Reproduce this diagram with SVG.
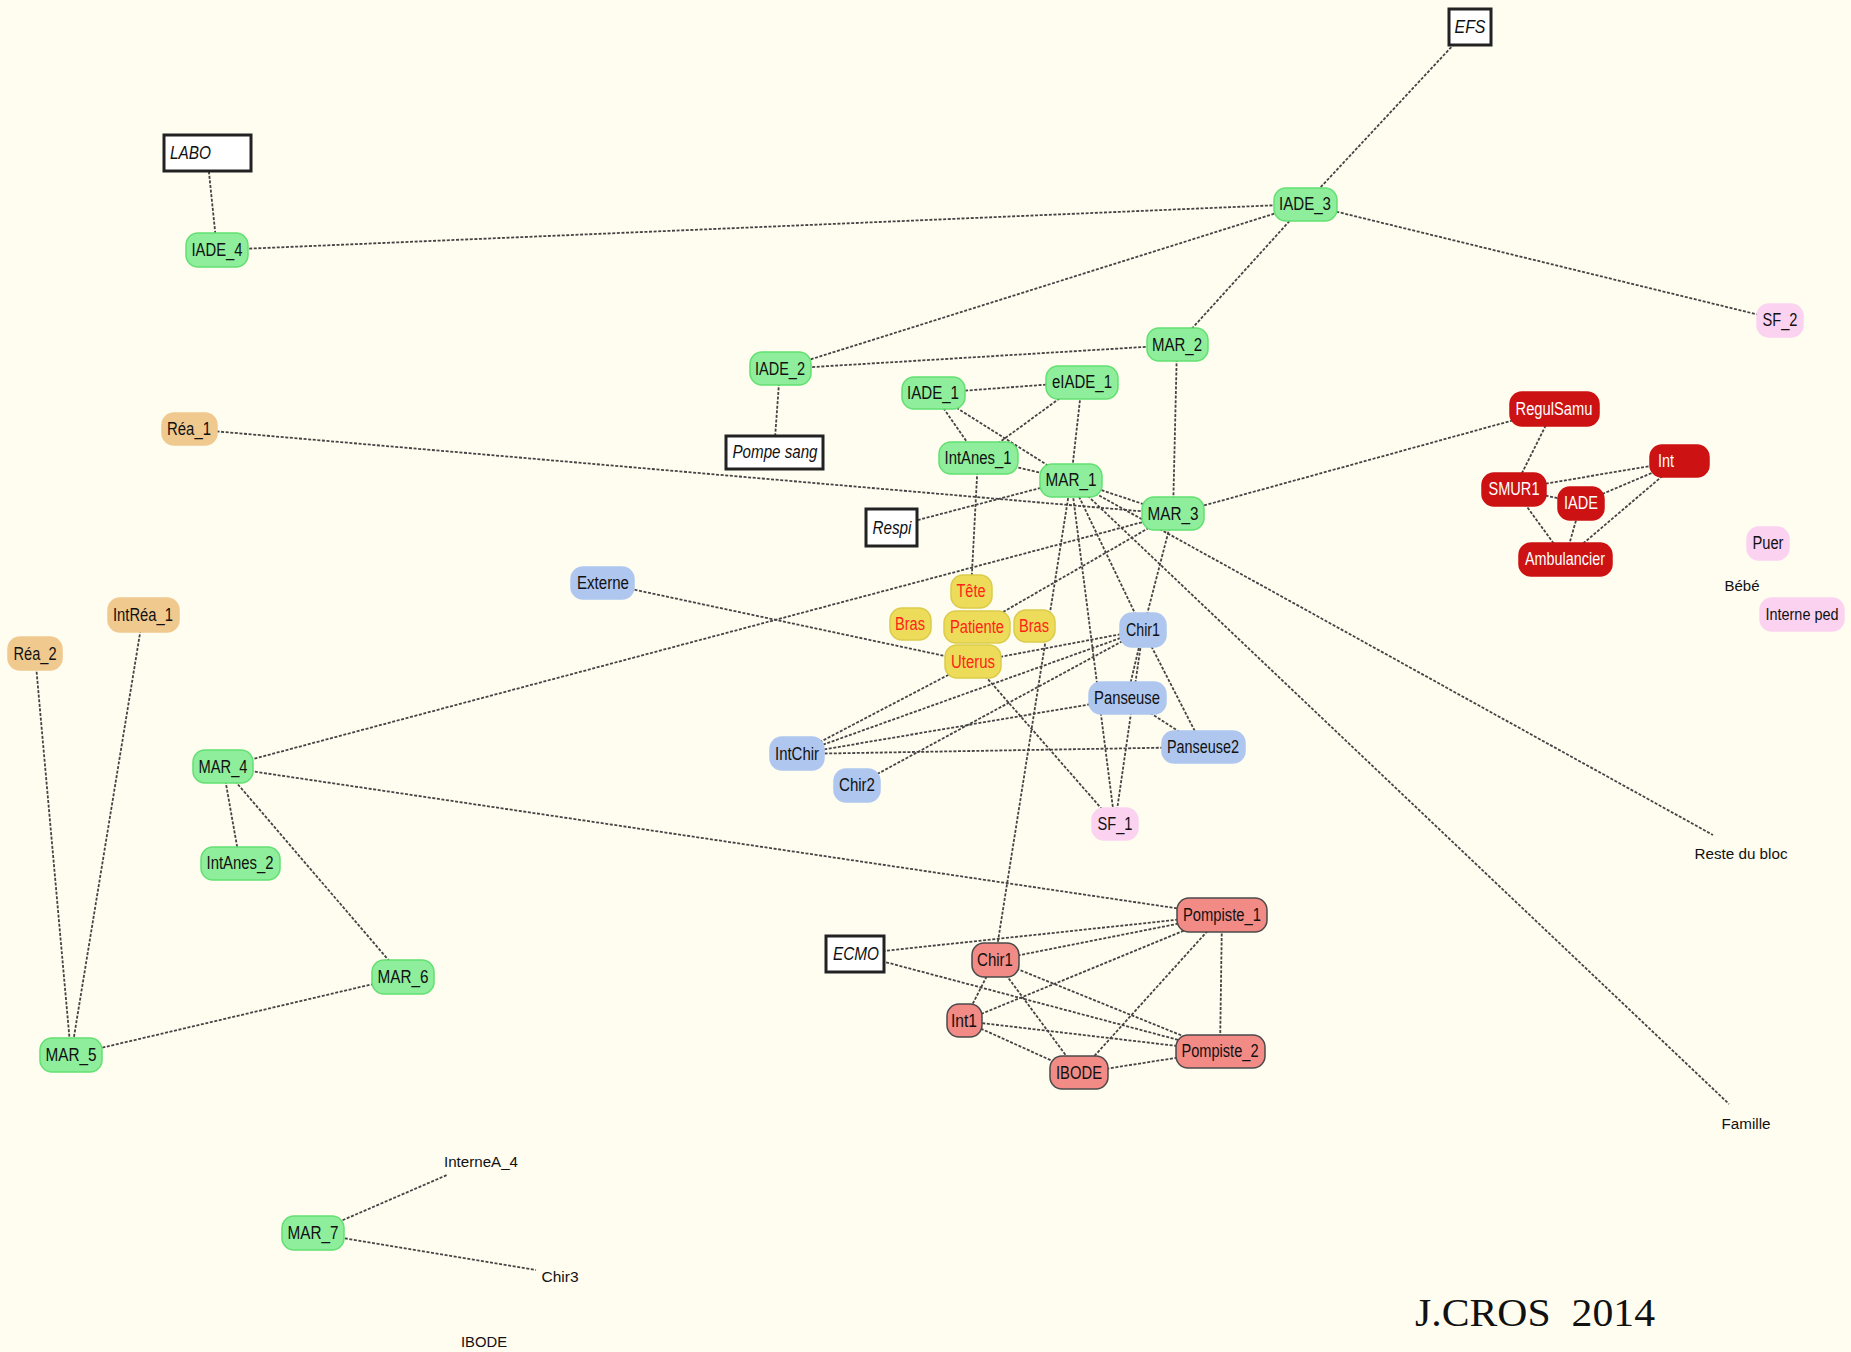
<svg xmlns="http://www.w3.org/2000/svg" width="1851" height="1352" viewBox="0 0 1851 1352">
<style>
.bg{fill:#fffcf0}
.e{stroke:#444;stroke-width:1.8;stroke-dasharray:3 1.6;fill:none}
.n rect{stroke-width:1.5}
.g rect{fill:#8eee9b;stroke:#62e072}
.o rect{fill:#f0c98f;stroke:#f0c98f}
.b rect{fill:#afc7ef;stroke:#afc7ef}
.y rect{fill:#ecdc59;stroke:#dccb4a}
.p rect{fill:#fbd3f1;stroke:#fbd3f1}
.r rect{fill:#cc1212;stroke:#cc1212}
.lr rect{fill:#f28b86;stroke:#4a4a4a}
.box rect{fill:#ffffff;stroke:#222;stroke-width:3}
text{font-family:"Liberation Sans",Arial,sans-serif;font-size:17.5px;fill:#111;text-anchor:middle}
.y text{fill:#ff2418}
.r text{fill:#ffffff}
.box text{font-style:italic}
.free text{font-size:15.5px}
.sig{font-family:"Liberation Serif","DejaVu Serif",serif;font-size:41px;text-anchor:start}
</style>
<rect class="bg" x="0" y="0" width="1851" height="1352"/>
<g id="connectors">
<line class="e" x1="207" y1="153" x2="217" y2="250"/>
<line class="e" x1="217" y1="250" x2="1305" y2="204"/>
<line class="e" x1="1305" y1="204" x2="1470" y2="27"/>
<line class="e" x1="1305" y1="204" x2="1780" y2="320"/>
<line class="e" x1="1305" y1="204" x2="780" y2="369"/>
<line class="e" x1="1305" y1="204" x2="1177" y2="345"/>
<line class="e" x1="780" y1="369" x2="1177" y2="345"/>
<line class="e" x1="780" y1="369" x2="774" y2="452"/>
<line class="e" x1="933" y1="393" x2="1082" y2="382"/>
<line class="e" x1="933" y1="393" x2="978" y2="458"/>
<line class="e" x1="933" y1="393" x2="1071" y2="480"/>
<line class="e" x1="1082" y1="382" x2="978" y2="458"/>
<line class="e" x1="1082" y1="382" x2="1071" y2="480"/>
<line class="e" x1="978" y1="458" x2="1071" y2="480"/>
<line class="e" x1="978" y1="458" x2="971" y2="591"/>
<line class="e" x1="891" y1="527" x2="1071" y2="480"/>
<line class="e" x1="189" y1="429" x2="1173" y2="514"/>
<line class="e" x1="1071" y1="480" x2="1173" y2="514"/>
<line class="e" x1="1177" y1="345" x2="1173" y2="514"/>
<line class="e" x1="1173" y1="514" x2="1554" y2="409"/>
<line class="e" x1="1173" y1="514" x2="223" y2="767"/>
<line class="e" x1="1173" y1="514" x2="977" y2="627"/>
<line class="e" x1="1173" y1="514" x2="1143" y2="630"/>
<line class="e" x1="1071" y1="480" x2="1143" y2="630"/>
<line class="e" x1="1071" y1="480" x2="1115" y2="824"/>
<line class="e" x1="1071" y1="480" x2="995" y2="960"/>
<line class="e" x1="1071" y1="480" x2="1713" y2="835"/>
<line class="e" x1="1071" y1="480" x2="1729" y2="1104"/>
<line class="e" x1="603" y1="583" x2="973" y2="662"/>
<line class="e" x1="973" y1="662" x2="1143" y2="630"/>
<line class="e" x1="973" y1="662" x2="797" y2="754"/>
<line class="e" x1="973" y1="662" x2="1115" y2="824"/>
<line class="e" x1="797" y1="754" x2="1143" y2="630"/>
<line class="e" x1="797" y1="754" x2="1127" y2="698"/>
<line class="e" x1="797" y1="754" x2="1203" y2="747"/>
<line class="e" x1="857" y1="785" x2="1143" y2="630"/>
<line class="e" x1="1143" y1="630" x2="1127" y2="698"/>
<line class="e" x1="1143" y1="630" x2="1203" y2="747"/>
<line class="e" x1="1143" y1="630" x2="1115" y2="824"/>
<line class="e" x1="1127" y1="698" x2="1203" y2="747"/>
<line class="e" x1="223" y1="767" x2="240" y2="863"/>
<line class="e" x1="223" y1="767" x2="403" y2="977"/>
<line class="e" x1="223" y1="767" x2="1222" y2="915"/>
<line class="e" x1="71" y1="1055" x2="35" y2="654"/>
<line class="e" x1="71" y1="1055" x2="143" y2="615"/>
<line class="e" x1="71" y1="1055" x2="403" y2="977"/>
<line class="e" x1="313" y1="1233" x2="447" y2="1175"/>
<line class="e" x1="313" y1="1233" x2="536" y2="1270"/>
<line class="e" x1="1554" y1="409" x2="1514" y2="489"/>
<line class="e" x1="1514" y1="489" x2="1680" y2="461"/>
<line class="e" x1="1514" y1="489" x2="1581" y2="503"/>
<line class="e" x1="1581" y1="503" x2="1680" y2="461"/>
<line class="e" x1="1514" y1="489" x2="1565" y2="559"/>
<line class="e" x1="1581" y1="503" x2="1565" y2="559"/>
<line class="e" x1="1680" y1="461" x2="1565" y2="559"/>
<line class="e" x1="855" y1="954" x2="1222" y2="915"/>
<line class="e" x1="855" y1="954" x2="1220" y2="1051"/>
<line class="e" x1="995" y1="960" x2="1222" y2="915"/>
<line class="e" x1="995" y1="960" x2="1220" y2="1051"/>
<line class="e" x1="995" y1="960" x2="964" y2="1021"/>
<line class="e" x1="995" y1="960" x2="1079" y2="1073"/>
<line class="e" x1="964" y1="1021" x2="1222" y2="915"/>
<line class="e" x1="964" y1="1021" x2="1220" y2="1051"/>
<line class="e" x1="964" y1="1021" x2="1079" y2="1073"/>
<line class="e" x1="1079" y1="1073" x2="1222" y2="915"/>
<line class="e" x1="1079" y1="1073" x2="1220" y2="1051"/>
<line class="e" x1="1222" y1="915" x2="1220" y2="1051"/>
</g>
<g id="nodes">
<g id="LABO" class="n box"><rect x="164" y="135" width="87" height="36"/><text x="170" y="159" style="text-anchor:start" textLength="41" lengthAdjust="spacingAndGlyphs">LABO</text></g>
<g id="EFS" class="n box"><rect x="1449" y="9" width="42" height="36"/><text x="1470" y="33" textLength="31" lengthAdjust="spacingAndGlyphs">EFS</text></g>
<g id="PompeSang" class="n box"><rect x="726" y="436" width="97" height="33"/><text x="775" y="458" textLength="85" lengthAdjust="spacingAndGlyphs">Pompe sang</text></g>
<g id="Respi" class="n box"><rect x="866" y="509" width="51" height="37"/><text x="892" y="534" textLength="39" lengthAdjust="spacingAndGlyphs">Respi</text></g>
<g id="ECMO" class="n box"><rect x="826" y="936" width="58" height="36"/><text x="856" y="960" textLength="46" lengthAdjust="spacingAndGlyphs">ECMO</text></g>

<g id="IADE_4" class="n g"><rect x="186" y="233" width="62" height="34" rx="12"/><text x="217" y="256" textLength="51" lengthAdjust="spacingAndGlyphs">IADE_4</text></g>
<g id="IADE_3" class="n g"><rect x="1274" y="188" width="63" height="33" rx="12"/><text x="1305" y="210" textLength="52" lengthAdjust="spacingAndGlyphs">IADE_3</text></g>
<g id="IADE_2" class="n g"><rect x="750" y="352" width="61" height="33" rx="12"/><text x="780" y="375" textLength="50" lengthAdjust="spacingAndGlyphs">IADE_2</text></g>
<g id="MAR_2" class="n g"><rect x="1147" y="328" width="61" height="33" rx="12"/><text x="1177" y="351" textLength="50" lengthAdjust="spacingAndGlyphs">MAR_2</text></g>
<g id="IADE_1" class="n g"><rect x="902" y="377" width="63" height="32" rx="12"/><text x="933" y="399" textLength="52" lengthAdjust="spacingAndGlyphs">IADE_1</text></g>
<g id="eIADE_1" class="n g"><rect x="1046" y="366" width="72" height="33" rx="12"/><text x="1082" y="388" textLength="60" lengthAdjust="spacingAndGlyphs">eIADE_1</text></g>
<g id="IntAnes_1" class="n g"><rect x="939" y="442" width="79" height="32" rx="12"/><text x="978" y="464" textLength="67" lengthAdjust="spacingAndGlyphs">IntAnes_1</text></g>
<g id="MAR_1" class="n g"><rect x="1040" y="464" width="62" height="33" rx="12"/><text x="1071" y="486" textLength="51" lengthAdjust="spacingAndGlyphs">MAR_1</text></g>
<g id="MAR_3" class="n g"><rect x="1142" y="497" width="62" height="33" rx="12"/><text x="1173" y="520" textLength="51" lengthAdjust="spacingAndGlyphs">MAR_3</text></g>
<g id="MAR_4" class="n g"><rect x="193" y="750" width="60" height="33" rx="12"/><text x="223" y="773" textLength="49" lengthAdjust="spacingAndGlyphs">MAR_4</text></g>
<g id="IntAnes_2" class="n g"><rect x="201" y="847" width="79" height="33" rx="12"/><text x="240" y="869" textLength="67" lengthAdjust="spacingAndGlyphs">IntAnes_2</text></g>
<g id="MAR_6" class="n g"><rect x="372" y="960" width="62" height="34" rx="12"/><text x="403" y="983" textLength="51" lengthAdjust="spacingAndGlyphs">MAR_6</text></g>
<g id="MAR_5" class="n g"><rect x="40" y="1038" width="62" height="34" rx="12"/><text x="71" y="1061" textLength="51" lengthAdjust="spacingAndGlyphs">MAR_5</text></g>
<g id="MAR_7" class="n g"><rect x="282" y="1216" width="62" height="34" rx="12"/><text x="313" y="1239" textLength="51" lengthAdjust="spacingAndGlyphs">MAR_7</text></g>

<g id="Rea_1" class="n o"><rect x="162" y="413" width="55" height="32" rx="12"/><text x="189" y="435" textLength="44" lengthAdjust="spacingAndGlyphs">Réa_1</text></g>
<g id="IntRea_1" class="n o"><rect x="108" y="598" width="71" height="34" rx="12"/><text x="143" y="621" textLength="60" lengthAdjust="spacingAndGlyphs">IntRéa_1</text></g>
<g id="Rea_2" class="n o"><rect x="8" y="637" width="54" height="33" rx="12"/><text x="35" y="660" textLength="43" lengthAdjust="spacingAndGlyphs">Réa_2</text></g>

<g id="Externe" class="n b"><rect x="571" y="567" width="63" height="32" rx="12"/><text x="603" y="589" textLength="52" lengthAdjust="spacingAndGlyphs">Externe</text></g>
<g id="Chir1_bloc" class="n b"><rect x="1120" y="613" width="46" height="34" rx="12"/><text x="1143" y="636" textLength="34" lengthAdjust="spacingAndGlyphs">Chir1</text></g>
<g id="Panseuse" class="n b"><rect x="1089" y="682" width="77" height="32" rx="12"/><text x="1127" y="704" textLength="66" lengthAdjust="spacingAndGlyphs">Panseuse</text></g>
<g id="Panseuse2" class="n b"><rect x="1162" y="731" width="83" height="32" rx="12"/><text x="1203" y="753" textLength="72" lengthAdjust="spacingAndGlyphs">Panseuse2</text></g>
<g id="IntChir" class="n b"><rect x="770" y="737" width="54" height="33" rx="12"/><text x="797" y="760" textLength="44" lengthAdjust="spacingAndGlyphs">IntChir</text></g>
<g id="Chir2" class="n b"><rect x="834" y="769" width="46" height="33" rx="12"/><text x="857" y="791" textLength="36" lengthAdjust="spacingAndGlyphs">Chir2</text></g>

<g id="Tete" class="n y"><rect x="951" y="575" width="41" height="33" rx="12"/><text x="971" y="597" textLength="29" lengthAdjust="spacingAndGlyphs">Tête</text></g>
<g id="Bras_L" class="n y"><rect x="890" y="608" width="41" height="32" rx="12"/><text x="910" y="630" textLength="30" lengthAdjust="spacingAndGlyphs">Bras</text></g>
<g id="Patiente" class="n y"><rect x="944" y="611" width="66" height="32" rx="12"/><text x="977" y="633" textLength="54" lengthAdjust="spacingAndGlyphs">Patiente</text></g>
<g id="Bras_R" class="n y"><rect x="1014" y="610" width="41" height="32" rx="12"/><text x="1034" y="632" textLength="30" lengthAdjust="spacingAndGlyphs">Bras</text></g>
<g id="Uterus" class="n y"><rect x="945" y="645" width="56" height="33" rx="12"/><text x="973" y="668" textLength="44" lengthAdjust="spacingAndGlyphs">Uterus</text></g>

<g id="SF_1" class="n p"><rect x="1092" y="808" width="46" height="32" rx="12"/><text x="1115" y="830" textLength="35" lengthAdjust="spacingAndGlyphs">SF_1</text></g>
<g id="SF_2" class="n p"><rect x="1757" y="304" width="46" height="33" rx="12"/><text x="1780" y="326" textLength="35" lengthAdjust="spacingAndGlyphs">SF_2</text></g>
<g id="Puer" class="n p"><rect x="1747" y="527" width="42" height="33" rx="12"/><text x="1768" y="549" textLength="31" lengthAdjust="spacingAndGlyphs">Puer</text></g>
<g id="Interne_ped" class="n p"><rect x="1760" y="598" width="84" height="33" rx="12"/><text x="1802" y="620" style="font-size:16px" textLength="73" lengthAdjust="spacingAndGlyphs">Interne ped</text></g>

<g id="RegulSamu" class="n r"><rect x="1510" y="392" width="89" height="34" rx="12"/><text x="1554" y="415" textLength="77" lengthAdjust="spacingAndGlyphs">RegulSamu</text></g>
<g id="SMUR1" class="n r"><rect x="1482" y="473" width="64" height="33" rx="12"/><text x="1514" y="495" textLength="51" lengthAdjust="spacingAndGlyphs">SMUR1</text></g>
<g id="IADE_SMUR" class="n r"><rect x="1558" y="487" width="46" height="33" rx="12"/><text x="1581" y="509" textLength="34" lengthAdjust="spacingAndGlyphs">IADE</text></g>
<g id="Int_SMUR" class="n r"><rect x="1650" y="445" width="59" height="32" rx="12"/><text x="1658" y="467" style="text-anchor:start" textLength="16" lengthAdjust="spacingAndGlyphs">Int</text></g>
<g id="Ambulancier" class="n r"><rect x="1519" y="543" width="93" height="33" rx="12"/><text x="1565" y="565" textLength="80" lengthAdjust="spacingAndGlyphs">Ambulancier</text></g>

<g id="Pompiste_1" class="n lr"><rect x="1177" y="898" width="90" height="34" rx="12"/><text x="1222" y="921" textLength="78" lengthAdjust="spacingAndGlyphs">Pompiste_1</text></g>
<g id="Pompiste_2" class="n lr"><rect x="1176" y="1035" width="89" height="33" rx="12"/><text x="1220" y="1057" textLength="77" lengthAdjust="spacingAndGlyphs">Pompiste_2</text></g>
<g id="Chir1_ecmo" class="n lr"><rect x="972" y="943" width="47" height="34" rx="12"/><text x="995" y="966" textLength="36" lengthAdjust="spacingAndGlyphs">Chir1</text></g>
<g id="Int1" class="n lr"><rect x="947" y="1004" width="35" height="33" rx="12"/><text x="964" y="1027" textLength="26" lengthAdjust="spacingAndGlyphs">Int1</text></g>
<g id="IBODE_ecmo" class="n lr"><rect x="1050" y="1056" width="58" height="33" rx="12"/><text x="1079" y="1079" textLength="46" lengthAdjust="spacingAndGlyphs">IBODE</text></g>

<g id="Bebe" class="n free"><text x="1742" y="591" textLength="35" lengthAdjust="spacingAndGlyphs">Bébé</text></g>
<g id="Reste_du_bloc" class="n free"><text x="1741" y="859" textLength="93" lengthAdjust="spacingAndGlyphs">Reste du bloc</text></g>
<g id="Famille" class="n free"><text x="1746" y="1129" textLength="49" lengthAdjust="spacingAndGlyphs">Famille</text></g>
<g id="InterneA_4" class="n free"><text x="481" y="1167" textLength="74" lengthAdjust="spacingAndGlyphs">InterneA_4</text></g>
<g id="Chir3" class="n free"><text x="560" y="1282" textLength="37" lengthAdjust="spacingAndGlyphs">Chir3</text></g>
<g id="IBODE_free" class="n free"><text x="484" y="1347" textLength="46" lengthAdjust="spacingAndGlyphs">IBODE</text></g>
</g>
<text class="sig" x="1415" y="1326" textLength="240" lengthAdjust="spacingAndGlyphs">J.CROS&#160;&#160;2014</text>
</svg>
